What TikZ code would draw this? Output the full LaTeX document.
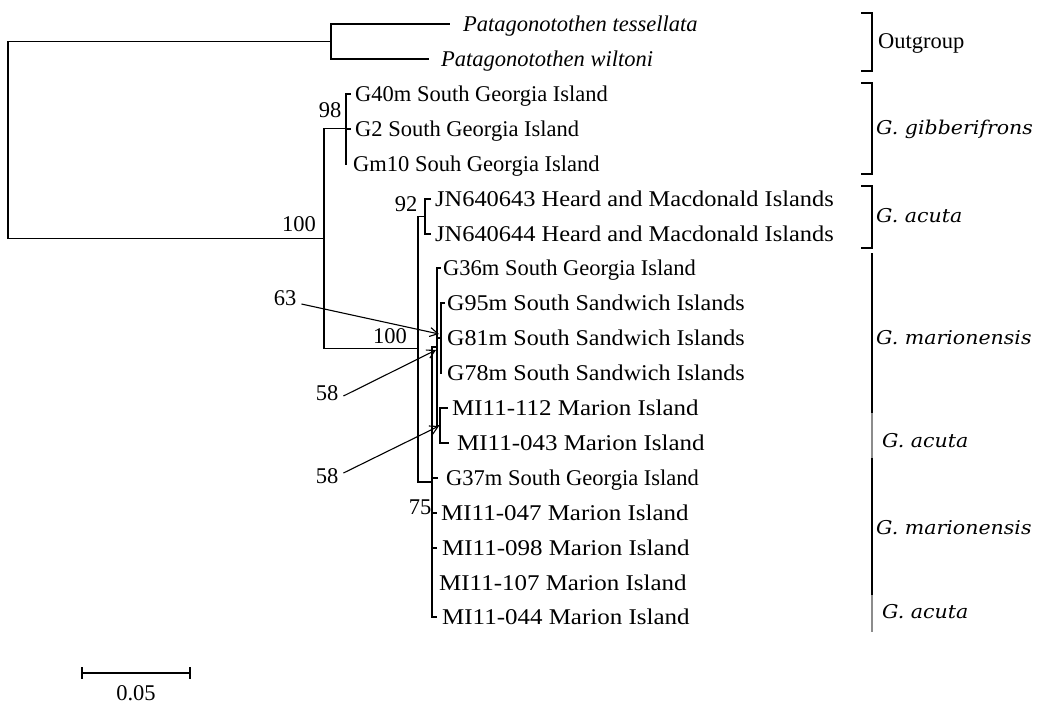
\documentclass[tikz,border=0pt]{standalone}
\usepackage{fontspec}
\setmainfont{Liberation Serif}
\newfontfamily\lblfont[FakeStretch=1.08]{DejaVu Serif}
\newfontfamily\jnfont[FakeStretch=1.085]{Liberation Serif}
\newfontfamily\sandfont[FakeStretch=1.07]{Liberation Serif}
\newfontfamily\mifont[FakeStretch=1.11]{Liberation Serif}
\usetikzlibrary{arrows.meta}
\begin{document}
\begin{tikzpicture}[x=1pt,y=-1pt,
  tree/.style={line width=1.1pt, line cap=rect},
  tiplab/.style={anchor=base west, inner sep=0pt, font=\fontsize{22.5}{24}\selectfont},
  jnlab/.style={tiplab, font=\jnfont\fontsize{22.5}{24}\selectfont},
  sandlab/.style={tiplab, font=\sandfont\fontsize{22.5}{24}\selectfont},
  milab/.style={tiplab, font=\mifont\fontsize{22.5}{24}\selectfont},
  itlab/.style={tiplab, font=\fontsize{22.5}{24}\selectfont\itshape},
  boot/.style={anchor=center, inner sep=0pt, font=\fontsize{22.5}{24}\selectfont},
  grp/.style={anchor=west, inner sep=0pt, font=\lblfont\fontsize{19}{21}\selectfont\itshape},
  grpup/.style={anchor=west, inner sep=0pt, font=\fontsize{22.5}{24}\selectfont},
  brk/.style={line width=1.6pt},
  bar/.style={line width=2.8pt},
  pointer/.style={line width=1.1pt, -{Straight Barb[length=8pt,width=9pt]}}]
\useasboundingbox (0,0) rectangle (1040,704);

% ---- tree coordinates
\coordinate (root) at (8,41.5);
\coordinate (rootb) at (8,238.5);
\coordinate (og) at (331,41.5);
\coordinate (n100) at (324,238.5);
\coordinate (gib) at (346,128.5);
\coordinate (nA) at (418,348.5);
\coordinate (jn) at (425,216.5);
\coordinate (nB) at (432,482);
\coordinate (nC) at (437,347);
\coordinate (nD) at (441,338);
\coordinate (nE) at (440,425.5);

% root
\draw[tree] (root) -- (rootb);
\draw[tree] (root) -- (og);
\draw[tree] (331,24) -- (331,59);
\draw[tree] (331,24) -- (449,24);
\draw[tree] (331,59) -- (428,59);
\draw[tree] (rootb) -- (n100);
\draw[tree] (324,128.5) -- (324,348.5);
% gibberifrons
\draw[tree] (324,128.5) -- (gib);
\draw[tree] (346,94) -- (346,164);
\draw[tree] (346,94) -- (350,94);
\draw[tree] (346,129) -- (350,129);
% node A
\draw[tree] (324,348.5) -- (nA);
\draw[tree] (418,216.5) -- (418,482);
\draw[tree] (418,216.5) -- (jn);
\draw[tree] (425,199) -- (425,234);
\draw[tree] (425,199) -- (430,199);
\draw[tree] (425,234) -- (430,234);
% node B
\draw[tree] (418,482) -- (nB);
\draw[tree] (432,347) -- (432,617);
\draw[tree] (432,478) -- (437,478);
\draw[tree] (432,513) -- (436,513);
\draw[tree] (432,548) -- (436,548);
\draw[tree] (432,617) -- (436,617);
% node C
\draw[tree] (432,347) -- (nC);
\draw[tree] (437,268) -- (437,425.5);
\draw[tree] (437,268) -- (440,268);
\draw[tree] (437,338) -- (nD);
\draw[tree] (441,303) -- (441,373);
\draw[tree] (441,303) -- (444,303);
\draw[tree] (437,425.5) -- (nE);
\draw[tree] (440,408) -- (440,443);
\draw[tree] (440,408) -- (447,408);
\draw[tree] (440,443) -- (448,443);

% ---- tip labels
\node[itlab] (t0) at (463,31.5) {Patagonotothen tessellata};
\node[itlab] (t1) at (441,66.5) {Patagonotothen wiltoni};
\node[tiplab] (t2) at (355,101.5) {G40m South Georgia Island};
\node[tiplab] (t3) at (355,136.5) {G2 South Georgia Island};
\node[tiplab] (t4) at (353,171.5) {Gm10 Souh Georgia Island};
\node[jnlab] (t5) at (435,206.5) {JN640643 Heard and Macdonald Islands};
\node[jnlab] (t6) at (435,241.5) {JN640644 Heard and Macdonald Islands};
\node[tiplab] (t7) at (443,275.5) {G36m South Georgia Island};
\node[sandlab] (t8) at (447,310.5) {G95m South Sandwich Islands};
\node[sandlab] (t9) at (447,345.5) {G81m South Sandwich Islands};
\node[sandlab] (t10) at (447,380.5) {G78m South Sandwich Islands};
\node[milab] (t11) at (452,415.5) {MI11-112 Marion Island};
\node[milab] (t12) at (457,450.5) {MI11-043 Marion Island};
\node[tiplab] (t13) at (446,485.5) {G37m South Georgia Island};
\node[milab] (t14) at (441,520.5) {MI11-047 Marion Island};
\node[milab] (t15) at (442,555.5) {MI11-098 Marion Island};
\node[milab] (t16) at (439,590.5) {MI11-107 Marion Island};
\node[milab] (t17) at (442,624.5) {MI11-044 Marion Island};

% ---- bootstrap values
\node[boot] (b98) at (330,110) {98};
\node[boot] (b100a) at (299,224) {100};
\node[boot] (b92) at (406,204) {92};
\node[boot] (b100b) at (390,336) {100};
\node[boot] (b75) at (420,507) {75};
\node[boot] (b63) at (285,298) {63};
\node[boot] (b58a) at (327,393) {58};
\node[boot] (b58b) at (327,476) {58};
\coordinate (p63) at (439,334);
\coordinate (p58a) at (436,350);
\coordinate (p58b) at (439,426);
\draw[pointer] (b63.east) ++(5,6) -- (p63);
\draw[pointer] (b58a.east) ++(5,3) -- (p58a);
\draw[pointer] (b58b.east) ++(5,-3) -- (p58b);

% ---- group brackets
\draw[brk] (861,13) -- (872,13) -- (872,71) -- (861,71);
\node[grpup] (g1) at (878,43) {Outgroup};
\draw[brk] (861,83) -- (872,83) -- (872,174) -- (861,174);
\node[grp] (g2) at (876,129) {G. gibberifrons};
\draw[brk] (861,186) -- (872,186) -- (872,248) -- (861,248);
\node[grp] (g3) at (876,216) {G. acuta};
\draw[bar, black] (872,253) -- (872,413);
\draw[bar, black!45] (872,413) -- (872,458);
\draw[bar, black] (872,458) -- (872,595);
\draw[bar, black!45] (872,595) -- (872,632);
\node[grp] (g4) at (876,338) {G. marionensis};
\node[grp] (g5) at (882,441) {G. acuta};
\node[grp] (g6) at (876,528) {G. marionensis};
\node[grp] (g7) at (882,612) {G. acuta};

% ---- scale bar
\coordinate (s0) at (82,673);
\coordinate (s1) at (190,673);
\draw[line width=1.2pt] (s0) -- (s1);
\draw[line width=1.2pt] (82,667) -- (82,679);
\draw[line width=1.2pt] (190,667) -- (190,679);
\node[boot] (sl) at (136,693) {0.05};
\end{tikzpicture}
\end{document}
